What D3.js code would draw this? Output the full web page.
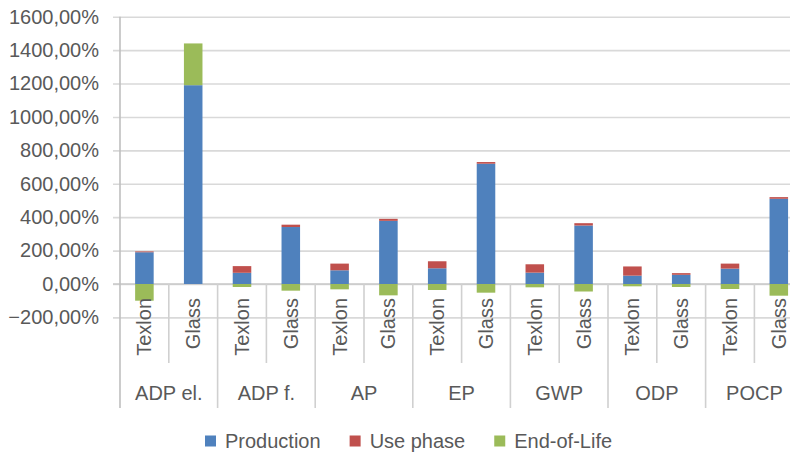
<!DOCTYPE html>
<html>
<head>
<meta charset="utf-8">
<script src="https://cdn.jsdelivr.net/npm/d3@7"></script>
<style>
  body { margin: 0; background: #fff; }
  svg { display: block; font-family: "Liberation Sans", Arial, sans-serif; }
</style>
</head>
<body>
<div id="chart"></div>
<script>
// Impact categories and compared products
const categories = ["ADP el.", "ADP f.", "AP", "EP", "GWP", "ODP", "POCP"];
const products = ["Texlon", "Glass"];
const series = ["Production", "Use phase", "End-of-Life"];

// values in %, one entry per category: [Texlon, Glass]
const production = [[190, 1190], [67, 341], [82, 378], [94, 720], [68, 350], [50, 55], [92, 510]];
const usePhase   = [[5, 0], [40, 14], [40, 12], [42, 10], [50, 14], [55, 10], [30, 10]];
const endOfLife  = [[-100, 250], [-18, -40], [-32, -68], [-36, -52], [-20, -45], [-14, -18], [-30, -70]];

const yTicks = [-200, 0, 200, 400, 600, 800, 1000, 1200, 1400, 1600];
const colors = ["#4f81bd", "#c0504d", "#9bbb59"];

const width = 790, height = 453;
const left = 120, slotW = 48.8;
const right = left + slotW * categories.length * products.length; // runs past the window edge

// Flat table for the stack: one row per bar
const rows = [];
categories.forEach((c, i) => {
  products.forEach((p, j) => {
    rows.push({
      key: c + "|" + p, cat: c, prod: p,
      "Production": production[i][j],
      "Use phase": usePhase[i][j],
      "End-of-Life": endOfLife[i][j]
    });
  });
});

const svg = d3.select("#chart").append("svg")
  .attr("width", width)
  .attr("height", height);

const x = d3.scaleBand()
  .domain(rows.map(d => d.key))
  .range([left, right])
  .paddingInner(0.62)
  .paddingOuter(0.31);

const y = d3.scaleLinear()
  .domain([-200, 1600])
  .range([317.4, 16.7]);

// gridlines + tick marks
svg.append("g")
  .attr("transform", `translate(${left},0)`)
  .call(d3.axisLeft(y).tickValues(yTicks).tickSize(-(right - left)).tickSizeOuter(0)
    .tickFormat(d => d3.format(".2f")(d).replace(".", ",") + "%"))
  .call(g => g.select(".domain").remove())
  .call(g => g.selectAll(".tick line")
    .attr("x1", -7)
    .attr("stroke", "#d9d9d9")
    .attr("stroke-width", 1.6))
  .call(g => g.selectAll(".tick text")
    .attr("x", -21)
    .attr("fill", "#595959")
    .attr("font-size", 20)
    .attr("font-family", "Liberation Sans, Arial, sans-serif"));

// zero line
svg.append("line")
  .attr("x1", left - 7).attr("x2", right)
  .attr("y1", y(0)).attr("y2", y(0))
  .attr("stroke", "#c8c8c8")
  .attr("stroke-width", 1.6);

// stacked bars
const stack = d3.stack().keys(series).offset(d3.stackOffsetDiverging);
const layers = stack(rows);

svg.append("g").selectAll("g")
  .data(layers)
  .join("g")
  .attr("fill", (d, i) => colors[i])
  .selectAll("rect")
  .data(d => d)
  .join("rect")
  .attr("x", d => x(d.data.key))
  .attr("width", x.bandwidth())
  .attr("y", d => y(Math.max(d[0], d[1])))
  .attr("height", d => Math.abs(y(d[0]) - y(d[1])));

// category axis: separators
const axisG = svg.append("g");
const step = x.step();
rows.forEach((d, i) => {
  const xs = left + step * i;
  const isGroup = i % products.length === 0;
  axisG.append("line")
    .attr("x1", xs).attr("x2", xs)
    .attr("y1", isGroup ? 16.7 : y(0))
    .attr("y2", isGroup ? 408 : 363)
    .attr("stroke", isGroup && i === 0 ? "#bfbfbf" : "#d0d0d0")
    .attr("stroke-width", 1.6);
});
axisG.append("line")
  .attr("x1", right).attr("x2", right)
  .attr("y1", y(0)).attr("y2", 408)
  .attr("stroke", "#d0d0d0").attr("stroke-width", 1.6);
// keep the inner group separators only below zero
axisG.selectAll("line").filter((d, i) => i > 0 && i % products.length === 0)
  .attr("y1", y(0));

// product labels (rotated)
svg.append("g").selectAll("text")
  .data(rows)
  .join("text")
  .attr("transform", d => `translate(${x(d.key) + x.bandwidth() / 2},298) rotate(-90)`)
  .attr("text-anchor", "end")
  .attr("dominant-baseline", "central")
  .attr("fill", "#595959")
  .attr("font-size", 20)
  .text(d => d.prod);

// category labels
svg.append("g").selectAll("text")
  .data(categories)
  .join("text")
  .attr("x", (d, i) => left + step * products.length * (i + 0.5))
  .attr("y", 393)
  .attr("text-anchor", "middle")
  .attr("dominant-baseline", "central")
  .attr("fill", "#595959")
  .attr("font-size", 20)
  .text(d => d);

// legend
const legend = svg.append("g");
let lx = 205;
series.forEach((s, i) => {
  legend.append("rect")
    .attr("x", lx).attr("y", 435.5)
    .attr("width", 11).attr("height", 11)
    .attr("fill", colors[i]);
  const t = legend.append("text")
    .attr("x", lx + 20).attr("y", 441)
    .attr("dominant-baseline", "central")
    .attr("fill", "#595959")
    .attr("font-size", 20)
    .text(s);
  lx += 20 + t.node().getComputedTextLength() + 29;
});
</script>
</body>
</html>
